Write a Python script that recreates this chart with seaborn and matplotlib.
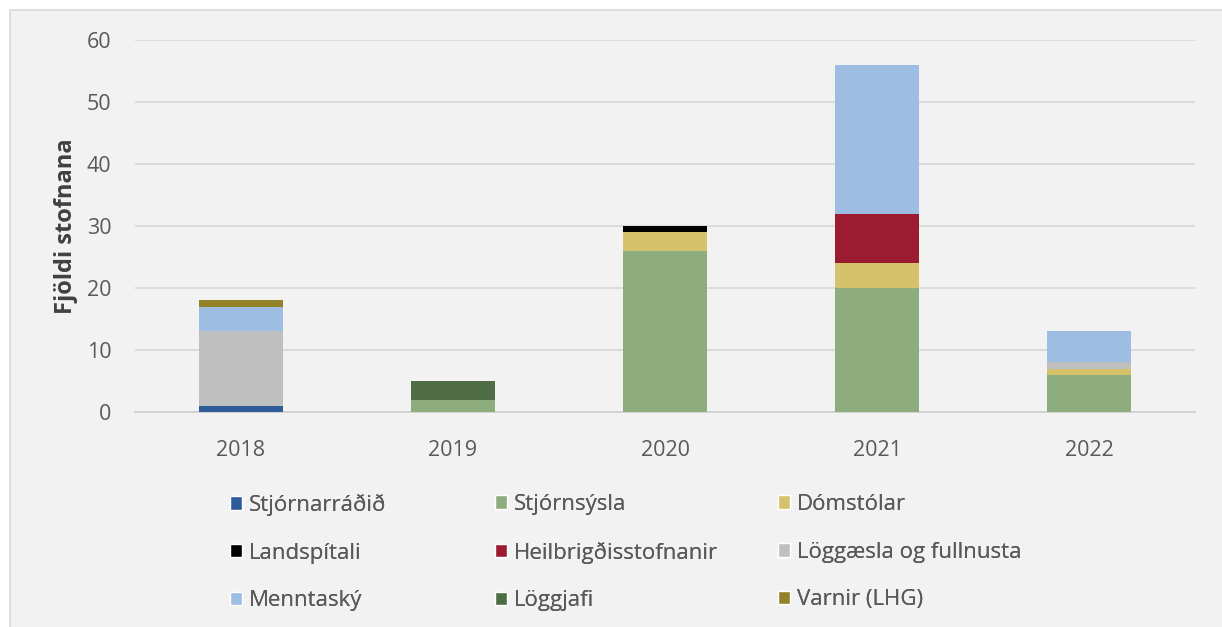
import pandas as pd
import seaborn as sns
import matplotlib
matplotlib.use("Agg")
import matplotlib.pyplot as plt
from matplotlib.patches import Patch, Rectangle

# Data
years = ["2018", "2019", "2020", "2021", "2022"]
categories = ["Stjórnarráðið", "Stjórnsýsla", "Dómstólar", "Landspítali",
              "Heilbrigðisstofnanir", "Löggæsla og fullnusta", "Menntaský",
              "Löggjafi", "Varnir (LHG)"]
stjornarradid = [1, 0, 0, 0, 0]
stjornsysla = [0, 2, 26, 20, 6]
domstolar = [0, 0, 3, 4, 1]
landspitali = [0, 0, 1, 0, 0]
heilbrigdis = [0, 0, 0, 8, 0]
loggaesla = [12, 0, 0, 0, 1]
menntasky = [4, 0, 0, 24, 5]
loggjafi = [0, 3, 0, 0, 0]
varnir = [1, 0, 0, 0, 0]
colors = ["#2E5C99", "#8EAD7E", "#D5C26B", "#000000", "#9B1C31",
          "#BFBFBF", "#9DBDE3", "#4F6D45", "#948228"]

series = [stjornarradid, stjornsysla, domstolar, landspitali, heilbrigdis,
          loggaesla, menntasky, loggjafi, varnir]

# Build a table and cumulative sums for stacking
df = pd.DataFrame(dict(zip(categories, series)), index=years)
cum = df.cumsum(axis=1)

sns.set_style("white")
plt.rcParams["font.family"] = ["Open Sans", "DejaVu Sans"]

fig = plt.figure(figsize=(12.22, 6.27), dpi=100, facecolor="white")
fig.add_artist(Rectangle((10 / 1222, -0.1), 1.2, 1 - 10 / 627 + 0.1,
                         transform=fig.transFigure, facecolor="#F2F2F2",
                         edgecolor="#D9D9D9", linewidth=1.2, zorder=-10))
ax = fig.add_axes([135 / 1222, 1 - 412 / 627, (1195 - 135) / 1222, (412 - 40) / 627])
ax.set_facecolor("#F2F2F2")

# Draw cumulative totals from the top segment down so each layer shows
for cat, col in reversed(list(zip(categories, colors))):
    sns.barplot(x=years, y=cum[cat].values, color=col, width=0.4,
                saturation=1, linewidth=0, ax=ax, zorder=3)

ax.set_ylim(0, 60)
ax.set_xlim(-0.5, 4.5)
ax.set_yticks(range(0, 61, 10))
ax.yaxis.grid(True, color="#D9D9D9", linewidth=1.3, zorder=0)
ax.set_axisbelow(True)
for s in ["top", "right", "left"]:
    ax.spines[s].set_visible(False)
ax.spines["bottom"].set_color("#D0D0D0")
ax.spines["bottom"].set_linewidth(1.3)
ax.tick_params(length=0, labelsize=15.5, colors="#595959")
ax.tick_params(axis="x", pad=20)
ax.tick_params(axis="y", pad=17)
ax.set_ylabel("Fjöldi stofnana", fontsize=17, fontweight="bold", color="#404040", labelpad=6)

# Legend: three columns, one legend per column
handles = [Patch(facecolor=c, label=l) for l, c in zip(categories, colors)]
col_x = [230, 495, 778]
for j, x0 in enumerate(col_x):
    idx = [j, j + 3, j + 6]
    leg = fig.legend([handles[i] for i in idx], [categories[i] for i in idx],
                     ncol=1, loc="upper left", bbox_to_anchor=(x0 / 1222, 1 - 494 / 627),
                     frameon=False, fontsize=16, labelcolor="#595959",
                     handlelength=0.55, handleheight=0.55, handletextpad=0.3,
                     borderpad=0, borderaxespad=0, labelspacing=1.2)
    fig.add_artist(leg)

fig.savefig("out.png", dpi=100, facecolor=fig.get_facecolor())
